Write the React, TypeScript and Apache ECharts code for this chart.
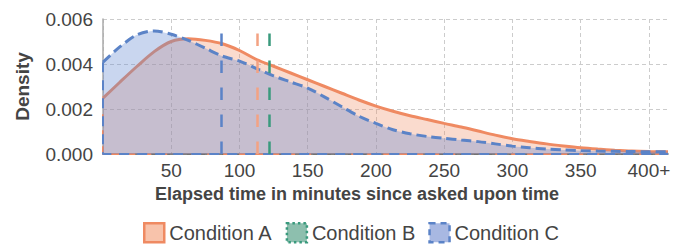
import React, { useEffect, useRef } from "react";
import * as echarts from "echarts";

// ---- data ----
const seriesNames = ["Condition A", "Condition B", "Condition C"];
const xTicksMax = 414;
const yTicks = [0, 0.002, 0.004, 0.006];

const xGrid = [0, 12.5, 25, 37.5, 50, 62.5, 75, 87.5, 100, 112.5, 125, 137.5, 150, 162.5, 175, 187.5, 200, 212.5, 225, 237.5, 250, 262.5, 275, 287.5, 300, 312.5, 325, 337.5, 350, 362.5, 375, 387.5, 400, 414];
const densA = [0.00248, 0.0032, 0.0039, 0.00455, 0.005, 0.00512, 0.00505, 0.0049, 0.0046, 0.0042, 0.0039, 0.0036, 0.0033, 0.003, 0.0027, 0.0024, 0.00213, 0.0019, 0.0017, 0.00153, 0.00136, 0.0012, 0.00102, 0.00084, 0.00068, 0.00056, 0.00045, 0.00036, 0.00028, 0.00022, 0.00017, 0.00013, 0.00011, 0.0001];
const densC = [0.00408, 0.00477, 0.0053, 0.00547, 0.00532, 0.00505, 0.0047, 0.00435, 0.00413, 0.0038, 0.00347, 0.0032, 0.00293, 0.00253, 0.0021, 0.00168, 0.00136, 0.00108, 0.0009, 0.00078, 0.0007, 0.00062, 0.00055, 0.00045, 0.00035, 0.00028, 0.00022, 0.00018, 0.00015, 0.00013, 0.00012, 0.00011, 0.0001, 0.0001];

const means = [112.7, 121.7, 86.6]; // A, B, C

const lineColors = ["#ef8a62", "#3a9a7d", "#5b83c7"];
const meanColors = ["#f3a283", "#3a9a7d", "#5b83c7"];
const fillColors = ["rgba(240,140,100,0.45)", "rgba(58,154,125,0.5)", "rgba(100,138,210,0.5)"];
const legendFills = ["#f8c3ab", "#8dbfae", "#a8b8e2"];

const FONT = "Liberation Sans";

export default function App() {
  const ref = useRef<HTMLDivElement>(null);
  useEffect(() => {
    if (!ref.current) return;
    const chart = echarts.init(ref.current, undefined, { renderer: "svg" });
    const dataA = xGrid.map((x, i) => [x, densA[i]]);
    const dataC = xGrid.map((x, i) => [x, densC[i]]);
    const meanDash = [12.5, 14.5];
    const meanSeries = (name: string, idx: number, z: number) => ({
      name,
      type: "line",
      data: [],
      z,
      silent: true,
      markLine: {
        silent: true,
        symbol: "none",
        animation: false,
        label: { show: false },
        lineStyle: { color: meanColors[idx], width: 2.5, type: meanDash },
        data: [{ xAxis: means[idx] }],
      },
    });
    chart.setOption({
      animation: false,
      grid: { left: 103, right: 15, top: 19, bottom: 91, containLabel: false },
      xAxis: {
        type: "value",
        min: 0,
        max: xTicksMax,
        interval: 50,
        axisLine: { show: true, lineStyle: { color: "#555", width: 1.5 } },
        axisTick: { show: false },
        axisLabel: {
          color: "#444",
          fontSize: 19,
          fontFamily: FONT,
          margin: 7,
          formatter: (v: number) => (v === 0 || v % 50 !== 0 ? "" : v === 400 ? "400+" : String(v)),
        },
        splitLine: { show: true, showMaxLine: false, lineStyle: { color: "#cccccc", type: [4, 3], width: 1 } },
      },
      yAxis: {
        type: "value",
        min: yTicks[0],
        max: yTicks[yTicks.length - 1],
        interval: 0.002,
        axisLine: { show: true, lineStyle: { color: "#aaa", width: 1.5 } },
        axisTick: { show: false },
        axisLabel: {
          color: "#444",
          fontSize: 19,
          fontFamily: FONT,
          margin: 10,
          formatter: (v: number) => v.toFixed(3),
        },
        splitLine: { show: true, lineStyle: { color: "#cccccc", type: [4, 3], width: 1 } },
      },
      legend: {
        left: 143,
        top: 222,
        padding: 0,
        itemWidth: 20,
        itemHeight: 19,
        itemGap: 13,
        icon: "rect",
        textStyle: { color: "#444", fontSize: 20, fontFamily: FONT },
        data: [
          { name: seriesNames[0], icon: "rect", itemStyle: { color: legendFills[0], borderColor: lineColors[0], borderWidth: 2.5, borderType: "solid" } },
          { name: seriesNames[1], icon: "rect", itemStyle: { color: legendFills[1], borderColor: lineColors[1], borderWidth: 2.5, borderType: [2.5, 3] } },
          { name: seriesNames[2], icon: "rect", itemStyle: { color: legendFills[2], borderColor: lineColors[2], borderWidth: 2.5, borderType: [6, 5] } },
        ],
      },
      graphic: [
        {
          type: "text",
          x: 357,
          y: 194,
          style: {
            text: "Elapsed time in minutes since asked upon time",
            fill: "#444",
            font: `bold 18px "${FONT}"`,
            textAlign: "center",
            textVerticalAlign: "middle",
          },
        },
        {
          type: "text",
          x: 22,
          y: 86.5,
          rotation: Math.PI / 2,
          style: {
            text: "Density",
            fill: "#444",
            font: `bold 19px "${FONT}"`,
            textAlign: "center",
            textVerticalAlign: "middle",
          },
        },
      ],
      series: [
        {
          name: seriesNames[0],
          type: "line",
          data: dataA,
          z: 2,
          smooth: 0.3,
          showSymbol: false,
          symbol: "none",
          itemStyle: { color: lineColors[0] },
          lineStyle: { color: lineColors[0], width: 3 },
          areaStyle: { color: fillColors[0], origin: "start" },
        },
        {
          name: "edgeA",
          type: "line",
          data: [[0, densA[0]], [0, 0], [xTicksMax, 0]],
          z: 2,
          silent: true,
          showSymbol: false,
          symbol: "none",
          lineStyle: { color: lineColors[0], width: 2, type: [8, 8] },
        },
        {
          name: seriesNames[1],
          type: "line",
          data: [],
          z: 2,
          itemStyle: { color: lineColors[1] },
        },
        {
          name: seriesNames[2],
          type: "line",
          data: dataC,
          z: 3,
          smooth: 0.3,
          showSymbol: false,
          symbol: "none",
          itemStyle: { color: lineColors[2] },
          lineStyle: { color: lineColors[2], width: 3, type: [10, 5] },
          areaStyle: { color: fillColors[2], origin: "start" },
        },
        {
          name: "edgeC",
          type: "line",
          data: [[0, densC[0]], [0, 0], [xTicksMax, 0]],
          z: 3,
          silent: true,
          showSymbol: false,
          symbol: "none",
          lineStyle: { color: lineColors[2], width: 2, type: [10, 8] },
        },
        meanSeries("meanA", 0, 6),
        meanSeries("meanB", 1, 6),
        meanSeries("meanC", 2, 6),
      ],
    });
    return () => chart.dispose();
  }, []);
  return <div ref={ref} style={{ width: 683, height: 245, position: "absolute", left: 0, top: 0 }} />;
}
